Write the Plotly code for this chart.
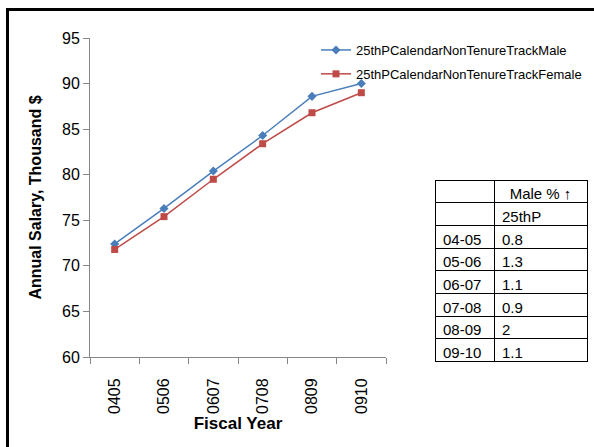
import plotly.graph_objects as go

# ---- data ----
fiscal_years = ["0405", "0506", "0607", "0708", "0809", "0910"]
male_salary = [72.4, 76.3, 80.4, 84.3, 88.6, 90.0]
female_salary = [71.8, 75.4, 79.5, 83.4, 86.8, 89.0]
male_name = "25thPCalendarNonTenureTrackMale"
female_name = "25thPCalendarNonTenureTrackFemale"
table_years = ["04-05", "05-06", "06-07", "07-08", "08-09", "09-10"]
table_male_pct = ["0.8", "1.3", "1.1", "0.9", "2", "1.1"]
table_header = ["", "Male % \u2191"]
table_subheader = ["", "25thP"]

# ---- layout geometry (pixels) ----
W, H = 594, 447
ML, MR, MT, MB = 90, 6, 38, 80
PW = W - ML - MR
PH = H - MT - MB


def px(x):
    return (x - ML) / PW


def py(y):
    return (H - MB - y) / PH


FONT = "Liberation Sans"
AXIS_COLOR = "#868686"

fig = go.Figure()
fig.add_trace(go.Scatter(
    x=fiscal_years, y=male_salary, name=male_name, mode="lines+markers",
    line=dict(color="#4A7EBB", width=1.5),
    marker=dict(symbol="diamond", size=7, color="#4A7EBB"),
    legendgroup="m",
))
fig.add_trace(go.Scatter(
    x=fiscal_years, y=female_salary, name=female_name, mode="lines+markers",
    line=dict(color="#BE4B48", width=1.5),
    marker=dict(symbol="square", size=7, color="#BE4B48"),
    legendgroup="f",
))

fig.add_trace(go.Table(
    domain=dict(x=[px(435), px(587)], y=[py(364), py(180)]),
    columnwidth=[59, 93],
    header=dict(
        values=table_header,
        align=["left", "center"],
        height=22.7,
        line=dict(color="black", width=1),
        fill=dict(color="white"),
        font=dict(family=FONT, size=15, color="black"),
    ),
    cells=dict(
        values=[[table_subheader[0]] + table_years,
                [table_subheader[1]] + table_male_pct],
        align="left",
        height=22.7,
        line=dict(color="black", width=1),
        fill=dict(color="white"),
        font=dict(family=FONT, size=15, color="black"),
    ),
))

fig.update_layout(
    width=W, height=H,
    margin=dict(l=ML, r=MR, t=MT, b=MB, pad=0),
    paper_bgcolor="white", plot_bgcolor="white",
    font=dict(family=FONT, color="black"),
    showlegend=True,
    legend=dict(
        x=px(316), y=py(35), xanchor="left", yanchor="top",
        font=dict(family=FONT, size=13, color="black"),
        bgcolor="rgba(0,0,0,0)", tracegroupgap=4,
    ),
    xaxis=dict(
        domain=[0, (386 - ML) / PW],
        type="category", range=[-0.5, 5.5], automargin=False,
        showline=True, linecolor=AXIS_COLOR, linewidth=1,
        ticks="outside", ticklen=6, tickcolor=AXIS_COLOR, tickson="boundaries",
        tickangle=-90, tickfont=dict(size=16, color="black"),
        ticklabelstandoff=14,
        showgrid=False, zeroline=False,
        title=dict(text="<b>Fiscal Year</b>", font=dict(size=17), standoff=4),
    ),
    yaxis=dict(
        domain=[py(357), 1],
        range=[60, 95], dtick=5, automargin=False,
        showline=True, linecolor=AXIS_COLOR, linewidth=1,
        ticks="outside", ticklen=6, tickcolor=AXIS_COLOR,
        tickfont=dict(size=16, color="black"),
        showgrid=False, zeroline=False,
        title=dict(text="<b>Annual Salary, Thousand $</b>", font=dict(size=16), standoff=16),
    ),
)

# outer frame (thick black border, right and bottom edges outside the image)
fig.add_shape(type="rect", xref="paper", yref="paper",
              x0=px(7.5), x1=px(620), y0=py(470), y1=py(9.5),
              line=dict(color="black", width=3), layer="above")

fig.write_html(
    "out.html",
    config={"displayModeBar": False},
    post_script="document.body.style.margin='0';document.body.style.overflow='hidden';",
)
